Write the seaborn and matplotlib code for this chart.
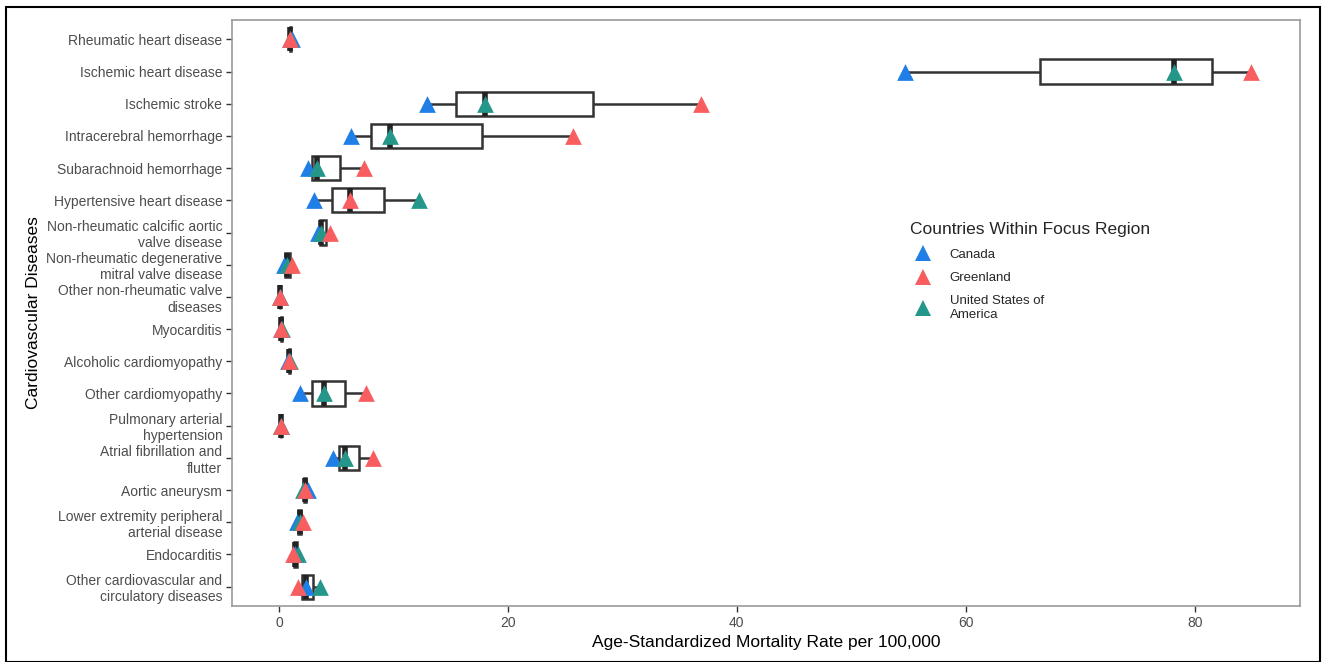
import matplotlib
matplotlib.use("Agg")
import matplotlib.pyplot as plt
import matplotlib.patches as mpatches
from matplotlib.lines import Line2D
import numpy as np
import pandas as pd
import seaborn as sns

# ---- data ----
diseases = [
    "Rheumatic heart disease",
    "Ischemic heart disease",
    "Ischemic stroke",
    "Intracerebral hemorrhage",
    "Subarachnoid hemorrhage",
    "Hypertensive heart disease",
    "Non-rheumatic calcific aortic\nvalve disease",
    "Non-rheumatic degenerative\nmitral valve disease",
    "Other non-rheumatic valve\ndiseases",
    "Myocarditis",
    "Alcoholic cardiomyopathy",
    "Other cardiomyopathy",
    "Pulmonary arterial\nhypertension",
    "Atrial fibrillation and\nflutter",
    "Aortic aneurysm",
    "Lower extremity peripheral\narterial disease",
    "Endocarditis",
    "Other cardiovascular and\ncirculatory diseases",
]
canada    = [1.1, 54.7, 12.9, 6.3, 2.5, 3.05, 3.4, 0.4, 0.1, 0.2, 0.8, 1.8, 0.2, 4.7, 2.5, 1.6, 1.4, 2.4]
greenland = [1.0, 84.9, 36.9, 25.7, 7.4, 6.2, 4.5, 1.15, 0.1, 0.2, 0.9, 7.6, 0.2, 8.2, 2.3, 2.1, 1.2, 1.7]
usa       = [1.0, 78.2, 18.0, 9.7, 3.3, 12.2, 3.7, 0.7, 0.1, 0.3, 1.0, 3.9, 0.2, 5.8, 2.1, 1.8, 1.7, 3.6]

countries = ["Canada", "Greenland", "United States of America"]
legend_labels = ["Canada", "Greenland", "United States of\nAmerica"]
palette = {"Canada": "#1F7FE6", "Greenland": "#F85E5F",
           "United States of America": "#25978A"}

df = pd.DataFrame({
    "disease": diseases * 3,
    "rate": canada + greenland + usa,
    "country": ["Canada"] * 18 + ["Greenland"] * 18 + ["United States of America"] * 18,
})

sns.set_theme(style="white")
plt.rcParams["font.family"] = ["Liberation Sans", "DejaVu Sans"]

fig = plt.figure(figsize=(13.25, 6.62), dpi=100)
ax = fig.add_axes([232 / 1325, 1 - 606 / 662, (1300 - 232) / 1325, (606 - 20) / 662])

sns.boxplot(data=df, x="rate", y="disease", order=diseases, orient="h",
            whis=(0, 100), showfliers=False, showcaps=False, width=0.75,
            color="white", linecolor="#333333", linewidth=1.8,
            medianprops={"linewidth": 4, "color": "#222222"}, ax=ax)

# points, drawn Canada -> USA -> Greenland (Greenland on top)
for c in ["Canada", "United States of America", "Greenland"]:
    sub = df[df.country == c]
    sns.scatterplot(data=sub, x="rate", y="disease", marker="^", s=145,
                    color=palette[c], linewidth=0, zorder=5, ax=ax, legend=False)

ax.set_xlim(-4.1, 89.2)
ax.set_ylim(17.6, -0.6)
ax.set_xticks([0, 20, 40, 60, 80])
ax.set_xlabel("Age-Standardized Mortality Rate per 100,000", fontsize=12.5, color="black")
ax.set_ylabel("Cardiovascular Diseases", fontsize=12.5, color="black")
ax.tick_params(axis="both", which="both", length=4, width=1, color="#333333",
               labelcolor="#4D4D4D", labelsize=10, left=True, bottom=True, pad=3)
for lab in ax.get_yticklabels():
    lab.set_multialignment("right")
for sp in ax.spines.values():
    sp.set_color("#999999")
    sp.set_linewidth(1.2)

handles = [Line2D([0], [0], marker="^", linestyle="", markersize=11,
                  markerfacecolor=palette[c], markeredgewidth=0) for c in countries]
leg = fig.legend(handles, legend_labels, title="Countries Within Focus Region",
                 loc="upper left", bbox_to_anchor=(905 / 1325, 1 - 217 / 662),
                 frameon=False, fontsize=9.5, title_fontsize=12.5,
                 handletextpad=1.0, labelspacing=0.85, borderaxespad=0)
leg._legend_box.align = "left"

# outer frame around the whole picture
fig.patches.append(mpatches.Rectangle((6 / 1325, 0.5 / 662), 1314 / 1325, 655 / 662,
                                      transform=fig.transFigure, fill=False,
                                      edgecolor="black", linewidth=1.5))

fig.savefig("out.png", dpi=100)
